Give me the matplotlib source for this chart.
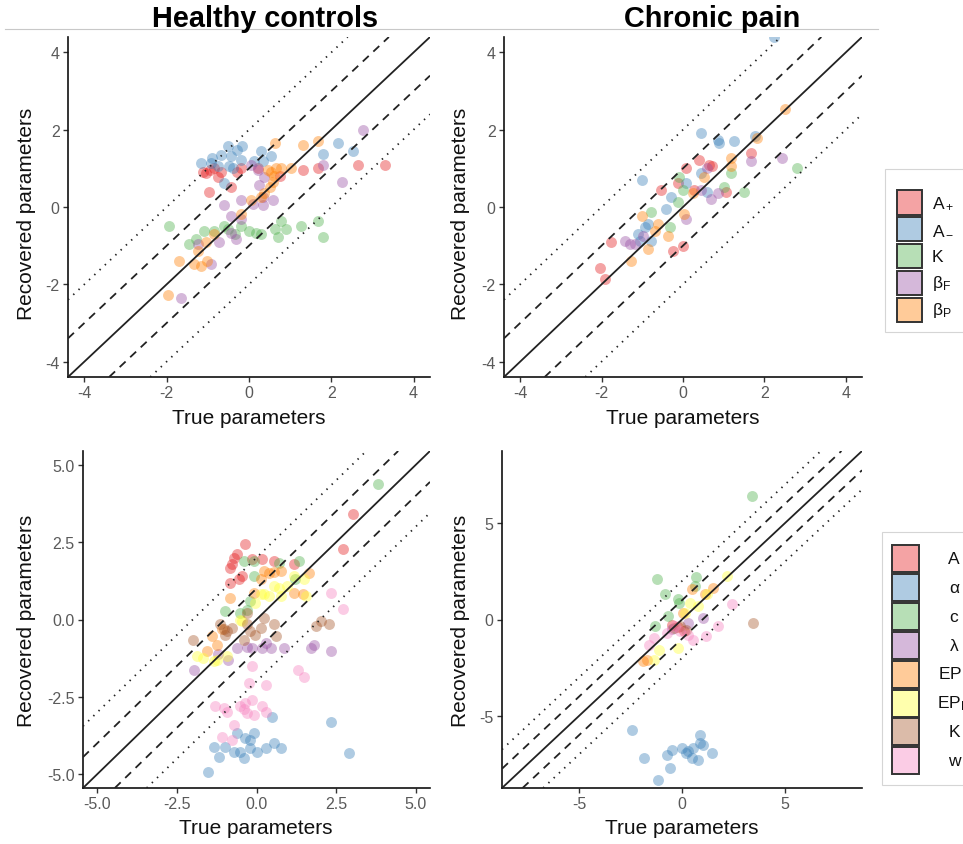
import matplotlib.pyplot as plt
from matplotlib.patches import Rectangle
from matplotlib.lines import Line2D
from matplotlib.colors import to_rgba

plt.rcParams['font.family'] = ['Liberation Sans', 'DejaVu Sans']
plt.rcParams['mathtext.fontset'] = 'custom'
plt.rcParams['mathtext.rm'] = 'Liberation Sans'
plt.rcParams['mathtext.it'] = 'Liberation Sans:italic'

# ---- data (true vs recovered) ----
top_params = ['A+', 'A-', 'K', 'bF', 'bP']
top_labels = ['A$_+$', 'A$_-$', 'K', 'β$_\\mathrm{F}$', 'β$_\\mathrm{P}$']
bot_params = ['A', 'alpha', 'c', 'lam', 'EPp', 'EPn', 'K', 'w']
bot_labels = ['A', 'α', 'c', 'λ', 'EP$_\\mathrm{P}$', 'EP$_\\mathrm{N}$', 'K', 'w']

set1 = ['#E41A1C', '#377EB8', '#4DAF4A', '#984EA3',
        '#FF7F00', '#FFFF33', '#A65628', '#F781BF']

hc_top_true = {
    'A+': [-1.05, -1.13, -0.84, -0.76, -0.68, -0.44, -0.97, -0.20, 0.21, 1.31, 1.67, 2.65, 3.30, -0.95, -0.30, 0.75],
    'A-': [-0.52, -0.28, -0.16, 0.29, 0.54, 0.33, 0.13, -0.44, -0.68, -0.89, -1.17, -0.93, -0.76, -0.48, -0.40, -0.60, 2.16, 2.53, 1.80, -0.20],
    'K': [-1.94, -1.45, -1.29, -1.09, -0.84, -0.60, -0.52, -0.20, -0.35, 0.01, 0.17, 0.29, 0.62, 0.78, 0.90, 0.70, 1.27, 1.67, 1.80],
    'bF': [-1.66, -0.93, -1.25, -0.72, -0.32, -0.44, -0.44, -0.60, -0.20, 0.09, 0.33, 0.58, 0.33, 0.25, 0.37, 0.05, 0.21, 1.80, 2.25, 2.77, -0.20],
    'bP': [-1.98, -1.70, -1.33, -1.17, -1.01, -1.25, -1.05, -0.84, -0.20, 0.05, 0.29, 0.37, 0.50, 0.58, 0.54, 0.66, 0.78, 1.02, 0.62, 1.31, 1.67, 0.60, 0.45],
}
hc_top_rec = {
    'A+': [0.87, 0.91, 1.00, 0.78, 0.91, 0.52, 0.39, 1.00, 1.00, 0.96, 1.00, 1.09, 1.10, 0.95, 0.90, 0.80],
    'A-': [1.57, 1.48, 1.57, 1.44, 1.31, 1.18, 1.18, 1.31, 1.35, 1.26, 1.13, 1.13, 1.05, 1.05, 1.00, 0.61, 1.66, 1.44, 1.36, 1.22],
    'K': [-0.48, -0.96, -0.83, -0.61, -0.61, -0.48, -0.57, -0.48, -0.70, -0.61, -0.66, -0.70, -0.57, -0.35, -0.57, -0.78, -0.48, -0.35, -0.78],
    'bF': [-2.36, -1.48, -0.96, -0.91, -0.83, -0.66, -0.22, 0.04, 0.17, 0.09, 0.04, 0.17, 0.26, 0.57, 0.78, 1.09, 0.96, 1.09, 0.65, 2.00, -0.30],
    'bP': [-2.27, -1.39, -1.48, -1.53, -1.39, -1.13, -0.91, -0.70, -0.17, 0.17, 0.26, 0.35, 0.52, 0.65, 0.91, 1.00, 1.00, 1.00, 1.66, 1.61, 1.70, 0.80, 0.95],
}

cp_top_true = {
    'A+': [-2.04, -1.92, -1.76, -0.54, -0.25, -0.01, 0.07, 0.40, 0.64, 0.72, 1.66, -0.13, 0.28, 1.05],
    'A-': [2.23, 0.44, 0.85, 0.89, 1.25, 1.78, -1.00, 0.44, 0.07, -0.29, -0.41, -0.94, -1.11, -1.06, -0.78, 0.60, -0.86],
    'K': [-0.09, -0.01, -0.13, -0.78, 1.17, 1.01, 1.50, 2.80, -0.33],
    'bF': [-1.43, -1.31, -1.19, -0.98, 0.07, 0.68, 0.85, 1.66, 2.43, 0.60, 0.44],
    'bP': [2.51, 1.82, 1.17, 1.17, -1.02, -1.27, -0.62, -0.37, -0.86, 0.52, 0.24, 0.03, -0.70],
}
cp_top_rec = {
    'A+': [-1.57, -1.87, -0.91, 0.44, -1.13, -1.00, 1.00, 1.22, 1.09, 1.05, 1.39, 0.61, 0.44, 0.39],
    'A-': [4.40, 1.92, 1.74, 1.66, 1.70, 1.83, 0.70, 0.87, 0.61, 0.26, -0.04, -0.52, -0.70, -0.87, -0.87, 0.39, -0.44],
    'K': [0.78, 0.44, 0.13, -0.13, 0.87, 0.52, 0.39, 1.00, -0.52],
    'bF': [-0.87, -0.96, -0.96, -0.74, -0.31, 0.22, 0.35, 1.18, 1.26, 1.00, 0.44],
    'bP': [2.53, 1.79, 1.26, 1.05, -0.22, -1.39, -0.44, -0.74, -1.09, 0.78, 0.35, -0.17, -0.61],
}

hc_bot_true = {
    'A': [-0.35, -0.61, -0.77, -0.82, -0.72, -0.45, -0.82, -0.56, 0.18, 0.55, 1.18, 2.71, 3.03, -0.13],
    'alpha': [0.50, 2.34, 2.92, -1.51, -0.61, -0.35, -0.08, -0.19, -1.35, -0.98, -0.72, -0.51, -0.40, 0.02, 0.29, 0.55, 0.76, -1.19, -0.19],
    'c': [3.82, -0.08, -0.40, 0.70, 1.34, -0.08, 1.20, -0.98, -0.30, -0.19, -0.51],
    'lam': [-1.96, -0.88, -0.61, -0.13, 0.18, 0.44, 0.86, 1.71, 1.81, 2.34, 0.30, -0.30, -1.20],
    'EPp': [0.23, 0.55, 0.76, 1.66, -0.82, -0.08, 1.18, 1.45, -1.40, -1.56, -1.24, -1.09, 0.13, 0.40],
    'EPn': [0.55, 0.70, 0.97, 1.18, 0.23, 0.39, 0.13, -0.05, 0.76, -0.51, -0.45, -1.88, -1.67, -1.24, -1.35, -0.93, 1.55, 1.50],
    'K': [-1.98, -1.03, -0.93, -1.14, -0.77, -0.30, -0.19, 0.13, 0.23, 0.55, 0.60, -0.05, -0.40, 1.87, 2.03, 2.29, -0.30, -1.00],
    'w': [-0.14, 1.29, 1.50, -0.24, 0.29, 2.34, 2.71, -1.30, -1.03, -0.93, -0.51, -0.35, -0.14, -0.30, -0.08, 0.18, 0.29, -0.72, -1.09, -0.77, -0.40],
}
hc_bot_rec = {
    'A': [2.44, 2.11, 1.79, 1.68, 2.00, 1.41, 1.19, 1.30, 1.95, 1.89, 1.79, 2.27, 3.41, 1.95],
    'alpha': [-3.14, -3.30, -4.33, -4.92, -3.68, -3.84, -3.68, -3.90, -4.11, -4.11, -4.27, -4.27, -4.49, -4.27, -4.16, -4.00, -4.16, -4.44, -4.16],
    'c': [4.38, 1.89, 1.89, 1.84, 1.89, 1.41, 1.30, 0.27, 0.32, 0.59, 0.22],
    'lam': [-1.62, -1.30, -0.92, -0.92, -0.92, -0.92, -0.92, -0.92, -0.81, -1.03, -0.75, -0.90, -1.10],
    'EPp': [1.57, 1.55, 1.57, 1.52, 0.70, 0.87, 0.87, 0.84, -0.54, -1.03, -0.81, -0.32, 1.30, 1.50],
    'EPn': [1.08, 1.03, 1.08, 1.41, 0.81, 0.76, 0.81, 0.54, 0.76, 0.00, -0.05, -1.19, -1.24, -1.30, -1.35, -1.19, 0.76, 1.30],
    'K': [-0.65, -0.32, -0.38, -0.16, -0.27, -0.16, -0.38, -0.27, 0.05, -0.16, -0.54, -0.49, -0.65, -0.22, -0.05, -0.16, 0.22, -0.50],
    'w': [-1.51, -1.62, -1.86, -2.05, -2.11, 0.87, 0.35, -2.81, -2.87, -2.98, -2.81, -2.70, -2.60, -3.03, -3.08, -2.81, -2.98, -3.41, -3.79, -3.90, -2.90],
}

cp_bot_true = {
    'A': [-0.20, 0.10, -0.50],
    'alpha': [-2.44, -1.87, -1.19, -0.57, -0.73, -0.49, -0.01, 0.31, 0.47, 0.79, 0.87, 0.87, 1.03, 1.44, 0.55, 0.20],
    'c': [3.38, -1.23, 0.68, -0.83, -0.18, 0.63, -0.66, -1.29, -0.13],
    'lam': [-0.50, 0.30, 1.00],
    'EPp': [0.47, 1.52, 1.12, -1.88, -1.72, 0.06],
    'EPn': [2.17, 1.21, 0.39, 0.15, -1.13, -1.36, -0.18, 0.79],
    'K': [3.46, -0.10, 0.20, -0.40],
    'w': [2.41, 1.76, 1.19, 0.55, -0.10, -0.34, -1.36, -1.59, -0.73, 0.30],
}
cp_bot_rec = {
    'A': [-0.40, -0.60, -0.30],
    'alpha': [-5.73, -7.20, -8.33, -7.73, -7.03, -6.77, -6.68, -6.84, -7.20, -7.29, -5.99, -6.42, -6.51, -6.91, -6.68, -6.95],
    'c': [6.42, 2.08, 2.22, 1.35, 1.08, 1.74, 0.17, -0.35, 0.87],
    'lam': [-0.50, -0.20, 0.10],
    'EPp': [1.56, 1.65, 1.30, -2.17, -2.08, 0.35],
    'EPn': [2.26, 1.30, 0.87, 0.35, -1.56, -2.08, -1.48, 0.69],
    'K': [-0.17, -0.35, -0.55, -0.45],
    'w': [0.78, -0.35, -0.87, -1.04, -0.61, -0.35, -0.96, -1.30, -0.69, -0.80],
}

W, H = 963, 845


def fx(px):
    return px / W


def fy(py):
    return 1 - py / H


def make_axes(fig, left, top, right, bottom):
    return fig.add_axes([fx(left), fy(bottom), (right - left) / W, (bottom - top) / H])


def draw_panel(ax, true_d, rec_d, params, lim, ticks, ticklabels, box, xlab_px, ylab_px):
    for p, c in zip(params, set1):
        ax.scatter(true_d[p], rec_d[p], s=62, color=c, alpha=0.4, linewidths=0, zorder=2)
    ax.axline((0, 0), slope=1, color='#222222', lw=1.3, zorder=3)
    for off in (-1, 1):
        ax.axline((0, off), slope=1, color='#222222', lw=1.3, ls=(0, (4.5, 3.5)), zorder=3)
    for off in (-2, 2):
        ax.axline((0, off), slope=1, color='#222222', lw=1.3, ls=(0, (0.8, 3.2)), zorder=3)
    ax.set_xlim(-lim, lim)
    ax.set_ylim(-lim, lim)
    ax.set_xticks(ticks)
    ax.set_xticklabels(ticklabels)
    ax.set_yticks(ticks)
    ax.set_yticklabels(ticklabels)
    for s in ('top', 'right'):
        ax.spines[s].set_visible(False)
    for s in ('left', 'bottom'):
        ax.spines[s].set_linewidth(1.2)
        ax.spines[s].set_color('#111111')
    ax.tick_params(labelsize=11.5, labelcolor='#5A5A5A', color='#333333',
                   length=3.5, width=1.0, pad=2.5)
    left, top, right, bottom = box
    ax.set_xlabel('True parameters', fontsize=15, color='#111111', va='center')
    ax.set_ylabel('Recovered parameters', fontsize=15, color='#111111', va='center')
    ax.xaxis.set_label_coords((xlab_px[0] - left) / (right - left),
                              (bottom - xlab_px[1]) / (bottom - top))
    ax.yaxis.set_label_coords((ylab_px[0] - left) / (right - left),
                              (bottom - ylab_px[1]) / (bottom - top))


fig = plt.figure(figsize=(W / 100, H / 100), dpi=100)

boxes = {
    'tl': (68, 38, 430, 378),
    'tr': (504, 38, 862, 378),
    'bl': (83, 452, 430, 789),
    'br': (502, 452, 862, 789),
}

ax_tl = make_axes(fig, *boxes['tl'])
draw_panel(ax_tl, hc_top_true, hc_top_rec, top_params, 4.4, [-4, -2, 0, 2, 4],
           ['-4', '-2', '0', '2', '4'], boxes['tl'], (249, 419), (27, 214))

ax_tr = make_axes(fig, *boxes['tr'])
draw_panel(ax_tr, cp_top_true, cp_top_rec, top_params, 4.4, [-4, -2, 0, 2, 4],
           ['-4', '-2', '0', '2', '4'], boxes['tr'], (683, 419), (460, 214))

ax_bl = make_axes(fig, *boxes['bl'])
draw_panel(ax_bl, hc_bot_true, hc_bot_rec, bot_params, 5.45, [-5, -2.5, 0, 2.5, 5],
           ['-5.0', '-2.5', '0.0', '2.5', '5.0'], boxes['bl'], (256, 829), (27, 621))

ax_br = make_axes(fig, *boxes['br'])
draw_panel(ax_br, cp_bot_true, cp_bot_rec, bot_params, 8.75, [-5, 0, 5],
           ['-5', '0', '5'], boxes['br'], (682, 829), (460, 621))

# titles and the thin rule under them
fig.add_artist(Line2D([fx(5), fx(878)], [fy(30), fy(30)], color='#C8C8C8', lw=0.8, zorder=0))
fig.text(fx(265), fy(19), 'Healthy controls', fontsize=20.8, fontweight='bold',
         ha='center', va='center', zorder=5)
fig.text(fx(712), fy(19), 'Chronic pain', fontsize=20.8, fontweight='bold',
         ha='center', va='center', zorder=5)


# legends (drawn by hand so they can run off the right edge like the original)
def draw_legend(labels, colors, box, key_x, key_top, key_size, step, text_x, ha):
    bx0, by0, bx1, by1 = box
    fig.add_artist(Rectangle((fx(bx0), fy(by1)), (bx1 - bx0) / W, (by1 - by0) / H,
                             transform=fig.transFigure, facecolor='white',
                             edgecolor='#D5D5D5', lw=0.8))
    for i, (lab, c) in enumerate(zip(labels, colors)):
        top = key_top + i * step
        fig.add_artist(Rectangle((fx(key_x), fy(top + key_size)), key_size / W, key_size / H,
                                 transform=fig.transFigure, facecolor=to_rgba(c, 0.4),
                                 edgecolor='#333333', lw=1.4))
        fig.text(fx(text_x), fy(top + key_size / 2), lab, fontsize=12.5,
                 ha=ha, va='center', color='#111111')


draw_legend(top_labels, set1[:5], (885, 170, 1000, 333), 897, 191, 24.5, 26.9, 932, 'left')
draw_legend(bot_labels, set1, (882, 533, 1000, 786), 892, 546, 27, 28.9, 954, 'center')

fig.savefig('out.png', dpi=100)
